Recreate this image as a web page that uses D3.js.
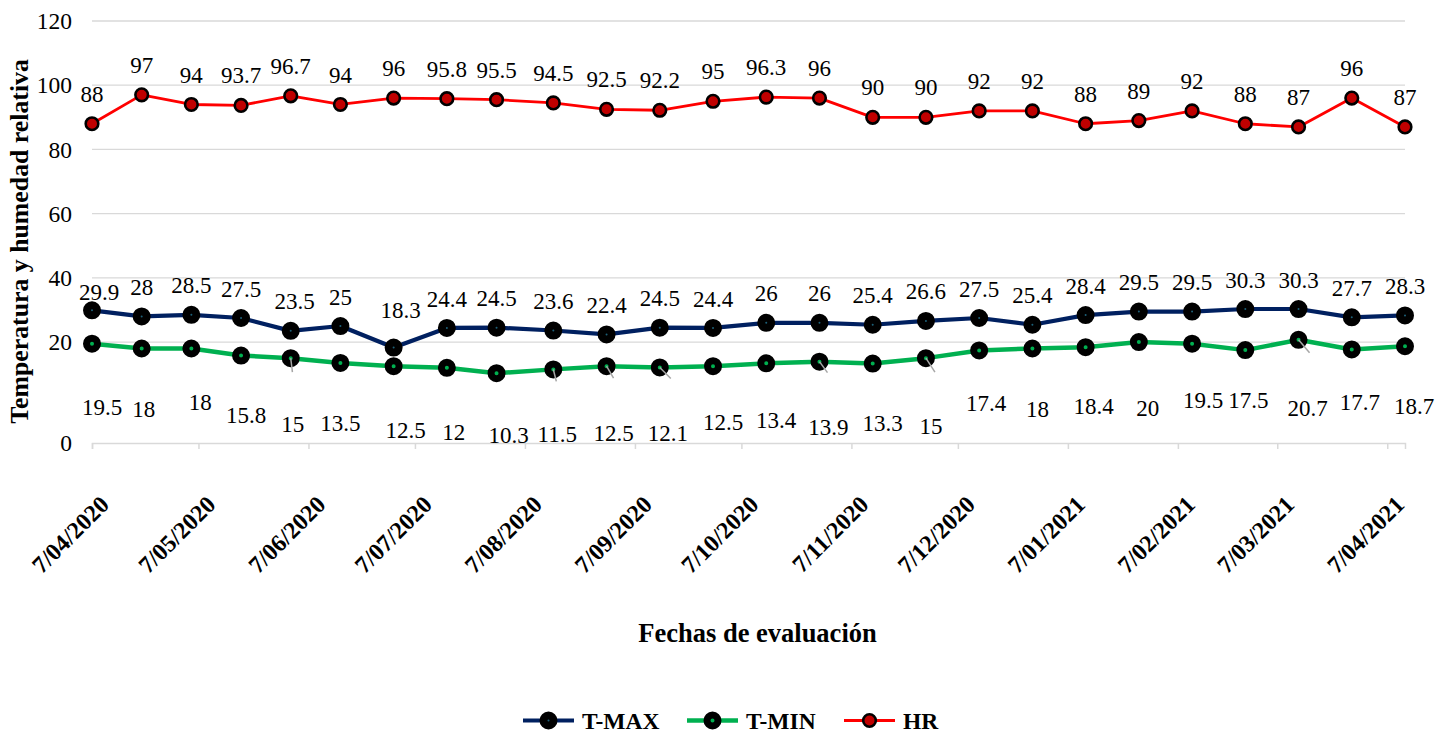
<!DOCTYPE html>
<html>
<head>
<meta charset="utf-8">
<script src="https://cdn.jsdelivr.net/npm/d3@7"></script>
<style>
  html, body { margin: 0; padding: 0; background: #fff; }
  svg { display: block; }
  text { font-family: "Liberation Serif", "Times New Roman", serif; fill: #000; }
</style>
</head>
<body>
<svg id="chart" width="1453" height="733"></svg>
<script>
// Sampling dates (roughly every two weeks)
const dates = [
  "2020-04-07","2020-04-21","2020-05-05","2020-05-19","2020-06-02","2020-06-16",
  "2020-07-01","2020-07-16","2020-07-30","2020-08-15","2020-08-30","2020-09-14",
  "2020-09-29","2020-10-14","2020-10-29","2020-11-13","2020-11-28","2020-12-13",
  "2020-12-28","2021-01-12","2021-01-27","2021-02-11","2021-02-26","2021-03-13",
  "2021-03-28","2021-04-12"
];
// Series values
const tmax = [29.9,28,28.5,27.5,23.5,25,18.3,24.4,24.5,23.6,22.4,24.5,24.4,26,26,25.4,26.6,27.5,25.4,28.4,29.5,29.5,30.3,30.3,27.7,28.3];
const tmin = [19.5,18,18,15.8,15,13.5,12.5,12,10.3,11.5,12.5,12.1,12.5,13.4,13.9,13.3,15,17.4,18,18.4,20,19.5,17.5,20.7,17.7,18.7];
const hr   = [88,97,94,93.7,96.7,94,96,95.8,95.5,94.5,92.5,92.2,95,96.3,96,90,90,92,92,88,89,92,88,87,96,87];
// Axis ticks
const xTickDates = [
  "2020-04-07","2020-05-07","2020-06-07","2020-07-07","2020-08-07","2020-09-07",
  "2020-10-07","2020-11-07","2020-12-07","2021-01-07","2021-02-07","2021-03-07","2021-04-07"
];
const yTicks = [0,20,40,60,80,100,120];
const seriesNames = ["T-MAX","T-MIN","HR"];

// ---- label placement (pixels) ----
const tminLabelDx = [10,2,9,5,2,0,12,7,12,4,7,8,10,10,9,10,5,7,5,8,9,11,3,9,8,9];
const tminLabelDy = [63,60,53,59,66,60,64,64,62,65,67,66,56,57,65,59,68,53,60,59,66,56,50,68,52,60];
const tmaxLabelOverride = {0: {dx: 7, dy: -18.6}, 4: {dx: 4}, 6: {dx: 7, dy: -38}};
// short leader lines from a few T-MIN points toward their labels
const tminLeaders = [[4,1.7,14],[9,3,12],[10,7,12],[11,11,11],[14,8,11],[16,9,14],[23,11,13]];

const parse = d3.timeParse("%Y-%m-%d");
const fmtTick = d3.timeFormat("%-d/%m/%Y");

const svg = d3.select("#chart");
svg.append("rect").attr("width",1453).attr("height",733).attr("fill","#fff");

const plotLeft = 92, plotRight = 1405, plotTop = 21, zeroY = 406.3, baseY = 443;
const x = d3.scaleTime().domain([parse("2020-04-07"), parse("2021-04-12")]).range([plotLeft, plotRight]);
const y = d3.scaleLinear().domain([0, 120]).range([zeroY, plotTop]);
const tickY = v => v === 0 ? baseY : y(v);

// gridlines
svg.append("g").selectAll("line").data(yTicks.filter(v => v > 0)).join("line")
  .attr("x1", plotLeft).attr("x2", plotRight)
  .attr("y1", d => y(d)).attr("y2", d => y(d))
  .attr("stroke", "#d9d9d9").attr("stroke-width", 1.3);

// y tick labels
svg.append("g").selectAll("text").data(yTicks).join("text")
  .attr("x", 72).attr("y", d => tickY(d)).attr("dy", "0.35em")
  .attr("text-anchor", "end").attr("font-size", 23.5)
  .text(d => d);

// x axis
const xAxis = d3.axisBottom(x)
  .tickValues(xTickDates.map(parse))
  .tickSize(6)
  .tickFormat(d => fmtTick(d));
const gx = svg.append("g").attr("transform", `translate(0,${baseY})`).call(xAxis);
gx.select(".domain").attr("stroke", "#d9d9d9").attr("stroke-width", 1.5);
gx.selectAll(".tick line").attr("stroke", "#d9d9d9").attr("stroke-width", 1.5);
gx.selectAll(".tick text")
  .attr("font-family", "Liberation Serif, Times New Roman, serif")
  .attr("font-size", 24).attr("font-weight", "bold").attr("fill", "#000")
  .attr("text-anchor", "end")
  .attr("x", 0).attr("y", 0).attr("dy", 0)
  .attr("transform", "translate(18,63) rotate(-45)");

// axis titles
svg.append("text")
  .attr("transform", "translate(19,241.5) rotate(-90)")
  .attr("text-anchor", "middle").attr("dy", "0.35em")
  .attr("font-size", 25.8).attr("font-weight", "bold")
  .text("Temperatura y humedad relativa");
svg.append("text")
  .attr("x", 757.5).attr("y", 633).attr("dy", "0.35em")
  .attr("text-anchor", "middle")
  .attr("font-size", 26.5).attr("font-weight", "bold")
  .text("Fechas de evaluación");

const styles = {
  "T-MAX": {line: "#002060", lw: 4.2, r: 5, sw: 8, fill: "#1d6078"},
  "T-MIN": {line: "#00b050", lw: 4.5, r: 5.5, sw: 7, fill: "#00b050"},
  "HR":    {line: "#ff0000", lw: 2.8, r: 6.3, sw: 2.6, fill: "#c00000"}
};
const seriesValues = {"T-MAX": tmax, "T-MIN": tmin, "HR": hr};

const line = d3.line().x(d => x(d.date)).y(d => y(d.v));

seriesNames.forEach(name => {
  const st = styles[name];
  const pts = seriesValues[name].map((v, i) => ({date: parse(dates[i]), v, i}));
  const g = svg.append("g");
  g.append("path").datum(pts).attr("d", line)
    .attr("fill", "none").attr("stroke", st.line).attr("stroke-width", st.lw)
    .attr("stroke-linejoin", "round");
  g.selectAll("circle").data(pts).join("circle")
    .attr("cx", d => x(d.date)).attr("cy", d => y(d.v))
    .attr("r", st.r).attr("fill", st.fill)
    .attr("stroke", "#000").attr("stroke-width", st.sw);
});

// leader lines
svg.append("g").selectAll("line").data(tminLeaders).join("line")
  .attr("x1", d => x(parse(dates[d[0]]))).attr("y1", d => y(tmin[d[0]]))
  .attr("x2", d => x(parse(dates[d[0]])) + d[1]).attr("y2", d => y(tmin[d[0]]) + d[2])
  .attr("stroke", "#a6a6a6").attr("stroke-width", 1.5);

// data labels
const fmtVal = v => String(v);
const labelSize = 23;
svg.append("g").selectAll("text").data(hr).join("text")
  .attr("x", (v, i) => x(parse(dates[i])))
  .attr("y", v => y(v) - 30).attr("dy", "0.35em")
  .attr("text-anchor", "middle").attr("font-size", labelSize)
  .text(fmtVal);
svg.append("g").selectAll("text").data(tmax).join("text")
  .attr("x", (v, i) => x(parse(dates[i])) + ((tmaxLabelOverride[i] && tmaxLabelOverride[i].dx) || 0))
  .attr("y", (v, i) => y(v) + ((tmaxLabelOverride[i] && tmaxLabelOverride[i].dy) || -29.5))
  .attr("dy", "0.35em")
  .attr("text-anchor", "middle").attr("font-size", labelSize)
  .text(fmtVal);
svg.append("g").selectAll("text").data(tmin).join("text")
  .attr("x", (v, i) => x(parse(dates[i])) + tminLabelDx[i])
  .attr("y", (v, i) => y(v) + tminLabelDy[i]).attr("dy", "0.35em")
  .attr("text-anchor", "middle").attr("font-size", labelSize)
  .text(fmtVal);

// legend
const legendY = 720.5;
const legendX = [523, 687, 844];
const lg = svg.append("g");
seriesNames.forEach((name, k) => {
  const st = styles[name];
  const x0 = legendX[k];
  lg.append("line").attr("x1", x0).attr("x2", x0 + 51)
    .attr("y1", legendY).attr("y2", legendY)
    .attr("stroke", st.line).attr("stroke-width", st.lw);
  lg.append("circle").attr("cx", x0 + 25.5).attr("cy", legendY)
    .attr("r", st.r).attr("fill", st.fill)
    .attr("stroke", "#000").attr("stroke-width", st.sw);
  lg.append("text").attr("x", x0 + 59).attr("y", legendY).attr("dy", "0.35em")
    .attr("font-size", 23.5).attr("font-weight", "bold")
    .text(name);
});
</script>
</body>
</html>
